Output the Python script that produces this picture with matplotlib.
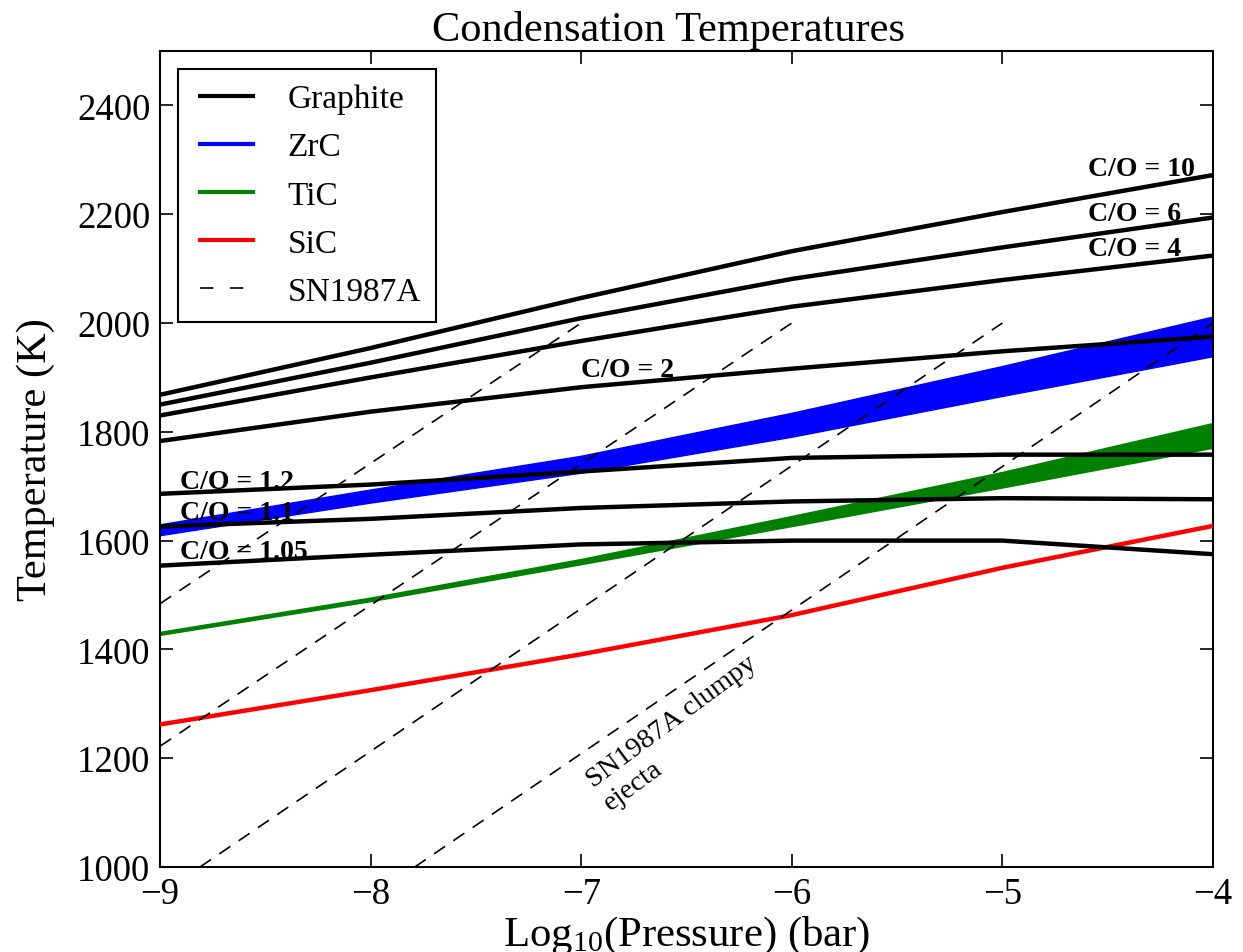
import numpy as np
import matplotlib
matplotlib.use("Agg")
import matplotlib.pyplot as plt
from matplotlib.legend_handler import HandlerLine2D

plt.rcParams['font.family'] = ['Liberation Serif', 'DejaVu Serif']
plt.rcParams['mathtext.fontset'] = 'custom'
plt.rcParams['mathtext.rm'] = 'Liberation Serif'
plt.rcParams['mathtext.it'] = 'Liberation Serif:italic'
plt.rcParams['mathtext.bf'] = 'Liberation Serif:bold'

# ---------------- data ----------------
log_p = [-9, -8, -7, -6, -5, -4]

graphite_labels = ["C/O = 10", "C/O = 6", "C/O = 4", "C/O = 2",
                   "C/O = 1.2", "C/O = 1.1", "C/O = 1.05"]
graphite_co10 = [1868, 1954, 2046, 2132, 2204, 2272]
graphite_co6 = [1850, 1927, 2009, 2081, 2139, 2194]
graphite_co4 = [1830, 1900, 1967, 2030, 2079, 2124]
graphite_co2 = [1783, 1837, 1882, 1916, 1948, 1975]
graphite_co12 = [1686, 1703, 1727, 1752, 1758, 1758]
graphite_co11 = [1626, 1640, 1660, 1672, 1678, 1676]
graphite_co105 = [1554, 1574, 1593, 1600, 1600, 1575]

zrc_upper = [1630, 1694, 1756, 1835, 1921, 2012]
zrc_lower = [1610, 1670, 1725, 1791, 1866, 1939]
tic_upper = [1431, 1494, 1565, 1644, 1725, 1815]
tic_lower = [1428, 1490, 1558, 1628, 1699, 1772]
sic = [1262, 1325, 1391, 1463, 1550, 1627]

# SN1987A adiabats: (log P start, log P end), (T start, T end)
sn_logp = [(-9, -7), (-9, -6), (-8.81, -5), (-7.79, -4)]
sn_temp = [(1484, 2000), (1222, 2000), (1000, 2000), (1000, 2000)]

# label anchor positions (log P, T)
label_pos = [(-4.594, 2284), (-4.594, 2201), (-4.594, 2137), (-7.0, 1914),
             (-8.905, 1709), (-8.905, 1652), (-8.905, 1580)]

legend_labels = ["Graphite", "ZrC", "TiC", "SiC", "SN1987A"]


class ShiftedLineHandler(HandlerLine2D):
    """Legend line drawn in the right part of the handle box."""
    def get_xdata(self, legend, xdescent, ydescent, width, height, fontsize):
        x0 = -xdescent + 0.12 * width
        x1 = -xdescent + width
        return [x0, x1], [x0, x1]


# ---------------- plot ----------------
fig = plt.figure(figsize=(12.43, 9.53), dpi=100)
ax = fig.add_axes([0.1287, 0.0892, 0.8471, 0.8562])

ax.fill_between(log_p, zrc_lower, zrc_upper, color='b', lw=1.0, edgecolor='b', zorder=2)
ax.fill_between(log_p, tic_lower, tic_upper, color='g', lw=2.0, edgecolor='g', zorder=2)
ax.plot(log_p, sic, color='r', lw=3.2, zorder=3)

graphite = [graphite_co10, graphite_co6, graphite_co4, graphite_co2,
            graphite_co12, graphite_co11, graphite_co105]
for g in graphite:
    ax.plot(log_p, g, color='k', lw=3.2, zorder=4)

for xs, ts in zip(sn_logp, sn_temp):
    ax.plot(xs, ts, color='k', lw=1.2, ls=(0, (8, 6)), zorder=5)

for lab, (px, pt) in zip(graphite_labels, label_pos):
    ax.text(px, pt, lab, fontsize=20, fontweight='bold', ha='left', va='center', zorder=6)

ax.text(-6.873, 1110, "SN1987A clumpy\nejecta", fontsize=20.5, rotation=36.5,
        rotation_mode='anchor', ha='left', va='baseline', multialignment='left',
        linespacing=1.2, zorder=6)

# legend proxies
handles = [
    plt.Line2D([], [], color='k', lw=3),
    plt.Line2D([], [], color='b', lw=3),
    plt.Line2D([], [], color='g', lw=3),
    plt.Line2D([], [], color='r', lw=3),
    plt.Line2D([], [], color='k', lw=1.2, ls=(0, (8, 10))),
]
leg = ax.legend(handles, legend_labels, loc='upper left', fontsize=24,
                fancybox=False, shadow=False, framealpha=1, edgecolor='k',
                handlelength=1.8, handletextpad=1.05, labelspacing=0.53,
                borderpad=0.44, borderaxespad=0.54,
                handler_map={plt.Line2D: ShiftedLineHandler()})
leg.get_frame().set_linewidth(1.5)

ax.set_xlim(-9, -4)
ax.set_ylim(1000, 2500)
ax.set_xticks([-9, -8, -7, -6, -5, -4])
ax.set_yticks([1000, 1200, 1400, 1600, 1800, 2000, 2200, 2400])
ax.tick_params(axis='both', which='major', direction='in', length=9.5, width=1.2,
               top=True, right=True, labelsize=26.5, pad=7)
for s in ax.spines.values():
    s.set_linewidth(1.5)

ax.set_title("Condensation Temperatures", fontsize=30.5, pad=8, x=0.483)
ax.set_xlabel(r"Log$_{10}$(Pressure) (bar)", fontsize=30.8, labelpad=2)
ax.set_ylabel("Temperature (K)", fontsize=30.5, labelpad=16)

fig.savefig("out.png", dpi=100)
